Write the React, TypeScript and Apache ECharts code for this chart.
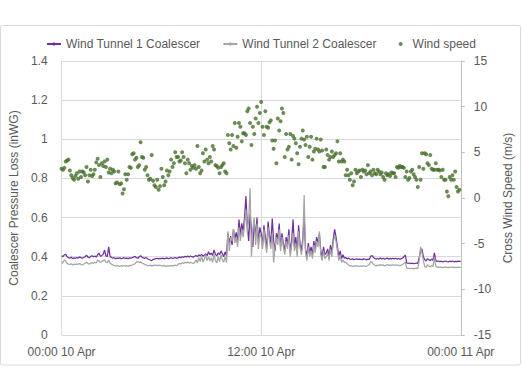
import React, { useEffect, useRef } from "react";
import * as echarts from "echarts";

// 5-minute samples from 00:00 10 Apr to 00:00 11 Apr
const stepMinutes = 5;
const xTickLabels = ["00:00 10 Apr", "12:00 10 Apr", "00:00 11 Apr"];
const seriesNames = ["Wind Tunnel 1 Coalescer", "Wind Tunnel 2 Coalescer", "Wind speed"];

const windTunnel1: number[] = [
  0.405, 0.400, 0.410, 0.412, 0.400, 0.395, 0.392, 0.397, 0.390, 0.394, 0.392, 0.396,
  0.393, 0.398, 0.395, 0.392, 0.396, 0.400, 0.408, 0.398, 0.395, 0.402, 0.405, 0.400,
  0.404, 0.398, 0.410, 0.418, 0.402, 0.406, 0.412, 0.434, 0.405, 0.400, 0.450, 0.402,
  0.396, 0.392, 0.395, 0.390, 0.393, 0.391, 0.394, 0.390, 0.392, 0.395, 0.391, 0.393,
  0.390, 0.394, 0.392, 0.396, 0.398, 0.402, 0.395, 0.392, 0.400, 0.405, 0.398, 0.394,
  0.392, 0.396, 0.390, 0.386, 0.383, 0.380, 0.386, 0.388, 0.390, 0.392, 0.389, 0.391,
  0.390, 0.393, 0.389, 0.392, 0.394, 0.390, 0.392, 0.395, 0.391, 0.393, 0.396, 0.392,
  0.394, 0.398, 0.395, 0.400, 0.397, 0.402, 0.399, 0.403, 0.398, 0.404, 0.400, 0.398,
  0.402, 0.406, 0.400, 0.410, 0.404, 0.412, 0.403, 0.408, 0.415, 0.405, 0.425, 0.410,
  0.418, 0.406, 0.435, 0.412, 0.404, 0.420, 0.410, 0.430, 0.415, 0.400, 0.425, 0.405,
  0.520, 0.470, 0.505, 0.460, 0.540, 0.490, 0.525, 0.475, 0.590, 0.510, 0.570, 0.530,
  0.600, 0.710, 0.560, 0.480, 0.620, 0.540, 0.450, 0.580, 0.500, 0.600, 0.470, 0.550,
  0.520, 0.460, 0.560, 0.500, 0.440, 0.580, 0.510, 0.470, 0.595, 0.480, 0.430, 0.520,
  0.490, 0.570, 0.450, 0.520, 0.470, 0.430, 0.500, 0.460, 0.540, 0.420, 0.480, 0.590,
  0.450, 0.500, 0.420, 0.560, 0.470, 0.430, 0.490, 0.605, 0.440, 0.400, 0.470, 0.420,
  0.450, 0.410, 0.480, 0.440, 0.500, 0.470, 0.520, 0.430, 0.400, 0.450, 0.410, 0.420,
  0.440, 0.400, 0.460, 0.420, 0.490, 0.540, 0.500, 0.450, 0.400, 0.430, 0.390, 0.410,
  0.392, 0.396, 0.389, 0.393, 0.388, 0.386, 0.389, 0.385, 0.387, 0.389, 0.386, 0.388,
  0.387, 0.385, 0.389, 0.387, 0.384, 0.388, 0.386, 0.402, 0.406, 0.396, 0.391, 0.388,
  0.391, 0.388, 0.393, 0.389, 0.392, 0.387, 0.390, 0.393, 0.388, 0.391, 0.389, 0.392,
  0.389, 0.392, 0.388, 0.391, 0.387, 0.390, 0.393, 0.400, 0.408, 0.368, 0.366, 0.368,
  0.365, 0.367, 0.364, 0.366, 0.368, 0.365, 0.395, 0.430, 0.440, 0.400, 0.385, 0.378,
  0.390, 0.385, 0.380, 0.388, 0.382, 0.420, 0.380, 0.376, 0.378, 0.375, 0.377, 0.374,
  0.376, 0.378, 0.375, 0.374, 0.377, 0.375, 0.378, 0.374, 0.376, 0.375, 0.377, 0.376,
  0.376,
];

const windTunnel2: number[] = [
  0.365, 0.372, 0.383, 0.378, 0.366, 0.362, 0.360, 0.364, 0.358, 0.362, 0.360, 0.363,
  0.361, 0.365, 0.360, 0.358, 0.363, 0.367, 0.372, 0.365, 0.362, 0.368, 0.370, 0.366,
  0.372, 0.368, 0.383, 0.378, 0.370, 0.375, 0.380, 0.385, 0.372, 0.370, 0.383, 0.368,
  0.362, 0.358, 0.355, 0.352, 0.356, 0.353, 0.350, 0.354, 0.352, 0.355, 0.351, 0.354,
  0.352, 0.356, 0.354, 0.358, 0.360, 0.364, 0.372, 0.375, 0.370, 0.374, 0.368, 0.365,
  0.360, 0.358, 0.355, 0.354, 0.357, 0.352, 0.356, 0.355, 0.358, 0.354, 0.357, 0.356,
  0.355, 0.352, 0.356, 0.350, 0.354, 0.351, 0.355, 0.352, 0.356, 0.353, 0.357, 0.354,
  0.360, 0.366, 0.362, 0.370, 0.365, 0.372, 0.368, 0.374, 0.366, 0.372, 0.368, 0.365,
  0.370, 0.385, 0.368, 0.395, 0.375, 0.405, 0.372, 0.390, 0.410, 0.380, 0.400, 0.378,
  0.395, 0.372, 0.412, 0.380, 0.368, 0.400, 0.375, 0.410, 0.385, 0.372, 0.400, 0.370,
  0.530, 0.430, 0.500, 0.480, 0.540, 0.470, 0.500, 0.450, 0.550, 0.480, 0.540, 0.500,
  0.560, 0.640, 0.520, 0.590, 0.750, 0.400, 0.540, 0.600, 0.460, 0.570, 0.440, 0.520,
  0.500, 0.440, 0.540, 0.470, 0.420, 0.550, 0.480, 0.440, 0.520, 0.370, 0.450, 0.500,
  0.460, 0.540, 0.430, 0.500, 0.450, 0.410, 0.480, 0.440, 0.510, 0.400, 0.460, 0.520,
  0.430, 0.470, 0.400, 0.530, 0.450, 0.410, 0.460, 0.715, 0.420, 0.380, 0.450, 0.400,
  0.430, 0.390, 0.460, 0.420, 0.480, 0.450, 0.530, 0.410, 0.380, 0.430, 0.390, 0.400,
  0.420, 0.380, 0.440, 0.400, 0.470, 0.510, 0.480, 0.430, 0.380, 0.410, 0.370, 0.385,
  0.370, 0.372, 0.365, 0.358, 0.352, 0.354, 0.350, 0.353, 0.351, 0.354, 0.352, 0.350,
  0.353, 0.351, 0.354, 0.350, 0.352, 0.355, 0.360, 0.375, 0.372, 0.362, 0.356, 0.353,
  0.357, 0.354, 0.360, 0.356, 0.359, 0.353, 0.356, 0.360, 0.355, 0.358, 0.356, 0.359,
  0.356, 0.359, 0.355, 0.358, 0.354, 0.357, 0.360, 0.366, 0.372, 0.342, 0.340, 0.341,
  0.339, 0.341, 0.338, 0.340, 0.342, 0.339, 0.380, 0.450, 0.420, 0.380, 0.350, 0.345,
  0.360, 0.352, 0.348, 0.355, 0.350, 0.400, 0.352, 0.346, 0.348, 0.345, 0.347, 0.344,
  0.346, 0.348, 0.345, 0.344, 0.347, 0.345, 0.348, 0.344, 0.346, 0.345, 0.347, 0.346,
  0.346,
];

const windSpeed: number[] = [
  3.2, 3.1, 3.3, 4.0, 4.1, 4.2, 3.0, 2.5, 2.2, 2.0, 2.4, 2.7,
  2.1, 2.9, 2.3, 2.9, 2.8, 2.5, 3.4, 1.8, 2.5, 3.1, 2.4, 2.6,
  3.1, 3.9, 4.3, 3.6, 2.3, 3.8, 3.5, 4.0, 3.4, 4.2, 2.8, 3.2,
  2.7, 3.1, 2.9, 1.6, 1.7, 2.9, 1.5, 1.6, 0.5, 0.95, 2.6, 2.0,
  2.6, 3.4, 3.3, 4.8, 4.9, 4.2, 4.4, 3.4, 3.6, 6.1, 4.5, 4.4,
  3.1, 3.4, 2.5, 2.0, 2.1, 4.7, 1.9, 1.4, 1.2, 2.0, 0.9, 1.3,
  3.2, 2.3, 1.4, 1.8, 3.0, 2.5, 2.9, 4.2, 3.4, 3.8, 5.0, 4.5,
  4.5, 4.0, 4.1, 5.0, 4.5, 3.8, 2.7, 4.2, 3.8, 3.1, 3.5, 3.3,
  3.6, 3.2, 5.7, 3.4, 2.7, 3.0, 4.9, 4.0, 5.3, 4.2, 3.8, 4.5,
  4.0, 5.7, 5.3, 3.6, 3.5, 3.3, 2.7, 3.4, 3.6, 3.8, 2.9, 2.7,
  6.9, 6.0, 5.3, 6.9, 5.7, 8.2, 5.5, 6.7, 8.2, 7.8, 6.2, 7.1,
  7.1, 6.9, 9.5, 9.8, 8.2, 5.8, 7.8, 7.0, 8.7, 10.0, 8.2, 9.3,
  10.5, 7.8, 6.9, 9.5, 7.8, 7.7, 8.3, 8.5, 6.3, 5.4, 6.3, 3.8,
  8.7, 7.4, 8.4, 9.8, 9.3, 4.5, 7.0, 5.3, 5.6, 7.0, 4.2, 6.8,
  6.5, 6.0, 4.9, 3.7, 5.6, 6.5, 7.4, 6.4, 5.8, 6.7, 4.5, 5.6,
  6.7, 4.2, 5.1, 5.4, 6.5, 5.3, 5.1, 6.4, 5.2, 3.4, 3.4, 5.3,
  4.7, 4.2, 4.5, 5.1, 4.5, 4.7, 4.9, 6.2, 4.0, 4.9, 4.0, 4.2,
  4.0, 2.5, 3.1, 2.5, 2.0, 2.7, 1.4, 1.8, 3.1, 2.7, 2.9, 3.0,
  2.3, 3.1, 2.9, 3.0, 2.6, 3.6, 2.7, 2.9, 2.5, 3.1, 2.7, 2.6,
  3.1, 2.9, 2.6, 2.8, 2.3, 2.0, 2.7, 2.5, 2.6, 2.4, 2.8, 2.7,
  2.7, 2.3, 3.4, 3.3, 3.5, 3.4, 3.4, 3.3, 2.3, 2.9, 2.0, 2.2,
  2.9, 3.1, 2.6, 2.3, 2.0, 1.2, 3.4, 2.0, 4.9, 3.2, 4.9, 4.8,
  3.8, 3.6, 4.7, 3.2, 3.1, 3.1, 3.8, 3.1, 3.1, 3.0, 2.3, 3.1,
  2.0, 2.0, 0.7, 0.2, 2.3, 2.0, 2.5, 2.0, 2.9, 1.2, 0.7, 0.9,
];

const toPairs = (arr: number[]) => arr.map((v, i) => [(i * stepMinutes) / 60, v]);

const textColor = "#595959";
const gridColor = "#d9d9d9";
const font = "Liberation Sans, Arial, sans-serif";

export default function App() {
  const ref = useRef<HTMLDivElement>(null);
  useEffect(() => {
    if (!ref.current) return;
    const chart = echarts.init(ref.current, undefined, { renderer: "svg" });
    chart.setOption({
      animation: false,
      backgroundColor: "#ffffff",
      textStyle: { fontFamily: font },
      graphic: [
        {
          type: "rect",
          shape: { x: 0.5, y: 25.5, width: 520, height: 339.5, r: 2 },
          style: { fill: "none", stroke: gridColor, lineWidth: 1 },
          silent: true,
          z: -1,
        },
      ],
      legend: {
        top: 33,
        left: "center",
        itemWidth: 14,
        itemHeight: 4,
        itemGap: 22,
        textStyle: { color: textColor, fontSize: 12, fontFamily: font },
        data: [
          { name: seriesNames[0] },
          { name: seriesNames[1] },
          { name: seriesNames[2], icon: "circle" },
        ],
      },
      grid: { left: 57, right: 59, top: 61, bottom: 38, containLabel: false },
      xAxis: {
        type: "value",
        min: 0,
        max: 24,
        interval: 12,
        axisLine: { show: false },
        axisTick: { show: false },
        splitLine: { show: true, lineStyle: { color: gridColor, width: 1 } },
        axisLabel: {
          color: textColor,
          fontSize: 12,
          fontFamily: font,
          margin: 11,
          formatter: (v: number) => xTickLabels[Math.round(v / 12)] ?? "",
        },
      },
      yAxis: [
        {
          type: "value",
          min: 0,
          max: 1.4,
          interval: 0.2,
          name: "Coalescer Pressure Loss (inWG)",
          nameLocation: "middle",
          nameGap: 30,
          nameTextStyle: { color: textColor, fontSize: 12, fontFamily: font },
          axisLine: { show: false },
          axisTick: { show: false },
          splitLine: { show: true, lineStyle: { color: gridColor, width: 1 } },
          axisLabel: { color: textColor, fontSize: 12, fontFamily: font, margin: 14 },
        },
        {
          type: "value",
          min: -15,
          max: 15,
          interval: 5,
          position: "right",
          name: "Cross Wind Speed (m/s)",
          nameLocation: "middle",
          nameGap: 41,
          nameRotate: 90,
          nameTextStyle: { color: textColor, fontSize: 12, fontFamily: font },
          axisLine: { show: true, lineStyle: { color: "#bfbfbf", width: 1 } },
          axisTick: { show: true, inside: false, length: 4, lineStyle: { color: "#bfbfbf" } },
          splitLine: { show: false },
          axisLabel: { color: textColor, fontSize: 12, fontFamily: font, margin: 13 },
        },
      ],
      series: [
        {
          name: seriesNames[0],
          type: "line",
          yAxisIndex: 0,
          data: toPairs(windTunnel1),
          symbol: "none",
          lineStyle: { color: "#7030A0", width: 1.25 },
          itemStyle: { color: "#7030A0" },
          z: 2,
        },
        {
          name: seriesNames[1],
          type: "line",
          yAxisIndex: 0,
          data: toPairs(windTunnel2),
          symbol: "none",
          lineStyle: { color: "#A5A5A5", width: 1.25 },
          itemStyle: { color: "#A5A5A5" },
          z: 3,
        },
        {
          name: seriesNames[2],
          type: "scatter",
          yAxisIndex: 1,
          data: toPairs(windSpeed),
          symbol: "circle",
          symbolSize: 4,
          itemStyle: { color: "#476F2C" },
          z: 4,
        },
      ],
    });
    return () => chart.dispose();
  }, []);
  return (
    <div
      ref={ref}
      style={{ position: "absolute", left: 0, top: 0, width: 522, height: 373 }}
    />
  );
}
